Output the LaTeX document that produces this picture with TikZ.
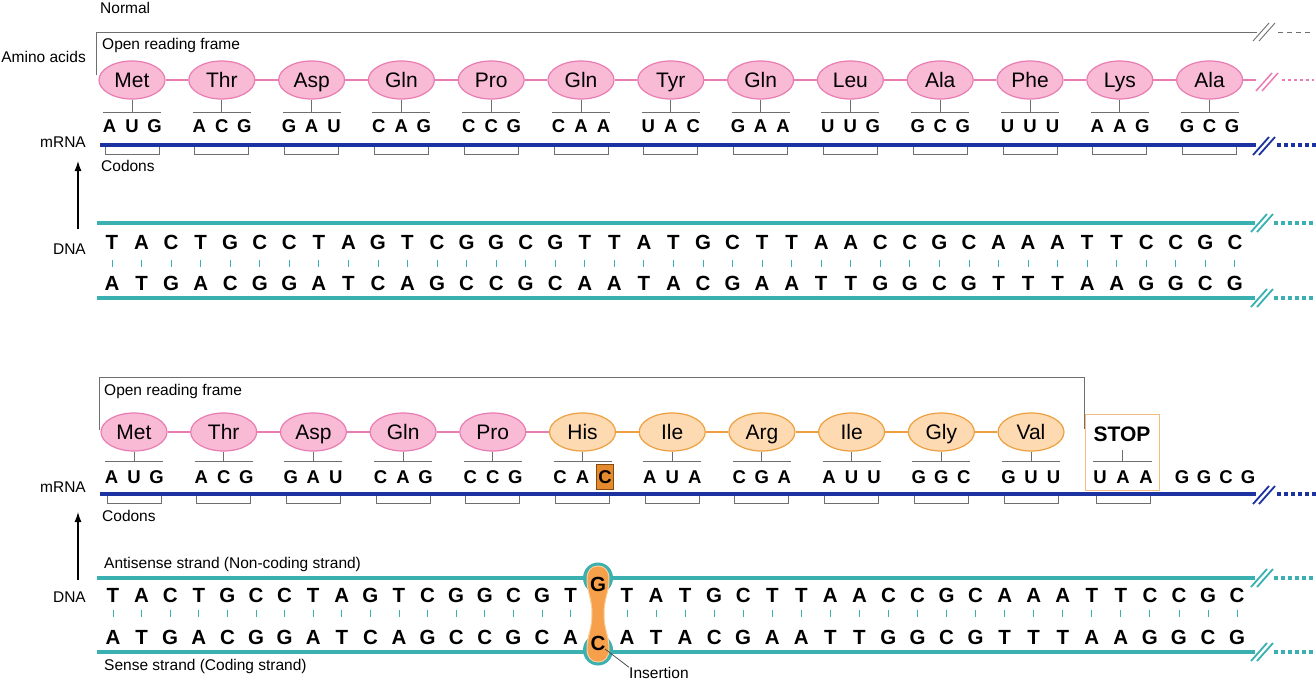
\documentclass[tikz,border=0pt]{standalone}
\usepackage{fontspec}
\setmainfont{Liberation Sans}
\usetikzlibrary{shapes.geometric,arrows.meta}
\definecolor{pinkfill}{RGB}{249,186,214}
\definecolor{pinkdraw}{RGB}{234,124,178}
\definecolor{orgfill}{RGB}{253,218,178}
\definecolor{orgdraw}{RGB}{238,160,64}
\definecolor{mblue}{RGB}{28,50,160}
\definecolor{dteal}{RGB}{58,176,176}
\definecolor{insorg}{RGB}{247,160,75}
\definecolor{insring}{RGB}{252,205,150}
\definecolor{hlfill}{RGB}{230,138,46}
\definecolor{hldraw}{RGB}{130,75,20}
\definecolor{gline}{RGB}{110,110,110}
\definecolor{stopdraw}{RGB}{240,188,130}
\newcommand\mybrk[4]{% x, y, color, width
  \draw[#3, line width=#4] (#1-11,#2+9) -- (#1+5,#2-9);
  \draw[#3, line width=#4] (#1-5,#2+9) -- (#1+11,#2-9);}
\begin{document}
\begin{tikzpicture}[x=1pt,y=-1pt,
  aa/.style={ellipse, draw=pinkdraw, fill=pinkfill, line width=1.2pt, minimum width=66pt, minimum height=38pt, inner sep=0pt, text height=15pt, text depth=0pt, font=\fontsize{21}{21}\selectfont},
  aao/.style={aa, draw=orgdraw, fill=orgfill},
  base/.style={inner sep=0pt, text height=13pt, text depth=0pt, font=\bfseries\fontsize{18.5}{18.5}\selectfont},
  hlbase/.style={base, fill=hlfill, draw=hldraw, line width=0.6pt, minimum width=17pt, minimum height=25pt},
  dna/.style={inner sep=0pt, text height=14.5pt, text depth=0pt, font=\bfseries\fontsize{20.5}{20.5}\selectfont},
  lbl/.style={inner sep=0pt, text height=11pt, text depth=0pt, font=\fontsize{15.5}{15.5}\selectfont},
  thinline/.style={draw=gline, line width=0.9pt},
  pinkline/.style={draw=pinkdraw, line width=1.8pt},
  orgline/.style={draw=orgdraw, line width=1.8pt},
  mrna/.style={draw=mblue, line width=4.2pt},
  strand/.style={draw=dteal, line width=4.2pt},
  bar/.style={draw=dteal, line width=0.9pt},
  updart/.style={-{Latex[length=10pt,width=7pt]}, line width=1.3pt, draw=black}]
\useasboundingbox[fill=white] (0,0) rectangle (1316,685);

% ================= TOP PANEL =================
\node[lbl,anchor=west] (normal) at (100,8) {Normal};
\node[lbl,anchor=west] (orf1) at (102,44) {Open reading frame};
\node[lbl,anchor=east] (aalbl) at (86,57) {Amino acids};
\node[lbl,anchor=east] (mrna1) at (86,142) {mRNA};
\node[lbl,anchor=west] (cod1) at (101,166) {Codons};
\node[lbl,anchor=east] (dna1) at (86,249) {DNA};

% ORF bracket
\coordinate (orf1a) at (96,75);
\coordinate (orf1b) at (96,32);
\coordinate (orf1c) at (1257,32);
\coordinate (orf1d) at (1278,32);
\coordinate (orf1e) at (1313,32);
\draw[thinline] (orf1a) -- (orf1b) -- (orf1c);
\mybrk{1264}{32}{gline}{0.9pt}
\draw[thinline, dash pattern=on 5pt off 4pt] (orf1d) -- (orf1e);

% amino acids + codons
\foreach \n/\a/\b/\c [count=\k from 0] in {Met/A/U/G,Thr/A/C/G,Asp/G/A/U,Gln/C/A/G,Pro/C/C/G,Gln/C/A/A,Tyr/U/A/C,Gln/G/A/A,Leu/U/U/G,Ala/G/C/G,Phe/U/U/U,Lys/A/A/G,Ala/G/C/G}{
  \pgfmathsetmacro\cx{132+89.8*\k}
  \node[aa] (ta\k) at (\cx,80) {\n};
  \coordinate (tc\k) at (\cx,112);
  \draw[thinline] (ta\k.south) -- (tc\k);
  \draw[thinline] ([xshift=-29pt]tc\k) -- ([xshift=29pt]tc\k);
  \node[base] (tba\k) at (\cx-22.5,126) {\a};
  \node[base] (tbb\k) at (\cx,126) {\b};
  \node[base] (tbc\k) at (\cx+22.5,126) {\c};
  \draw[thinline] (\cx-27,147) -- (\cx-27,154) -- (\cx+27,154) -- (\cx+27,147);
}
\foreach \k [evaluate=\k as \j using int(\k+1)] in {0,...,11}{
  \draw[pinkline] (ta\k) -- (ta\j);
}
\coordinate (pk1) at (1256,80);
\coordinate (pk2) at (1282,80);
\coordinate (pk3) at (1314,80);
\draw[pinkline] (ta12) -- (pk1);
\mybrk{1267}{82}{pinkdraw}{1.5pt}
\draw[pinkline, line width=1.6pt, dash pattern=on 3pt off 3pt] (pk2) -- (pk3);

% mRNA line
\coordinate (m1a) at (100,145);
\coordinate (m1b) at (1256,145);
\coordinate (m1c) at (1277,145);
\coordinate (m1d) at (1316,145);
\draw[mrna] (m1a) -- (m1b);
\mybrk{1264}{146}{mblue}{1.8pt}
\draw[mrna, dash pattern=on 4pt off 3pt] (m1c) -- (m1d);

% arrow
\coordinate (ar1a) at (78,229);
\coordinate (ar1b) at (78,161);
\draw[updart] (ar1a) -- (ar1b);

% DNA
\coordinate (d1a) at (97,223);
\coordinate (d1b) at (1255,223);
\coordinate (d1c) at (1274,223);
\coordinate (d1d) at (1316,223);
\coordinate (d1e) at (97,298);
\coordinate (d1f) at (1255,298);
\coordinate (d1g) at (1274,298);
\coordinate (d1h) at (1316,298);
\draw[strand] (d1a) -- (d1b);
\draw[strand] (d1e) -- (d1f);
\mybrk{1262}{223}{dteal}{1.8pt}
\mybrk{1262}{298}{dteal}{1.8pt}
\draw[strand, dash pattern=on 4pt off 3pt] (d1c) -- (d1d);
\draw[strand, dash pattern=on 4pt off 3pt] (d1g) -- (d1h);

\foreach \t/\b [count=\k from 0] in {T/A,A/T,C/G,T/A,G/C,C/G,C/G,T/A,A/T,G/C,T/A,C/G,G/C,G/C,C/G,G/C,T/A,T/A,A/T,T/A,G/C,C/G,T/A,T/A,A/T,A/T,C/G,C/G,G/C,C/G,A/T,A/T,A/T,T/A,T/A,C/G,C/G,G/C,C/G}{
  \pgfmathsetmacro\dx{112+29.55*\k}
  \node[dna] (dt\k) at (\dx,242) {\t};
  \node[dna] (db\k) at (\dx,283) {\b};
  \draw[bar] (\dx,260) -- (\dx,267);
}

% ================= BOTTOM PANEL =================
\node[lbl,anchor=west] (orf2) at (104,390) {Open reading frame};
\node[lbl,anchor=east] (mrna2) at (86,487) {mRNA};
\node[lbl,anchor=west] (cod2) at (102,516) {Codons};
\node[lbl,anchor=east] (dna2) at (86,597) {DNA};
\node[lbl,anchor=west] (anti) at (104,563) {Antisense strand (Non-coding strand)};
\node[lbl,anchor=west] (sense) at (104,665) {Sense strand (Coding strand)};

\coordinate (orf2a) at (99,430);
\coordinate (orf2b) at (99,377);
\coordinate (orf2c) at (1084,377);
\coordinate (orf2d) at (1084,429);
\draw[thinline] (orf2a) -- (orf2b) -- (orf2c) -- (orf2d);

\foreach \n/\a/\b/\c/\s/\h [count=\k from 0] in {Met/A/U/G/aa/base,Thr/A/C/G/aa/base,Asp/G/A/U/aa/base,Gln/C/A/G/aa/base,Pro/C/C/G/aa/base,His/C/A/C/aao/hlbase,Ile/A/U/A/aao/base,Arg/C/G/A/aao/base,Ile/A/U/U/aao/base,Gly/G/G/C/aao/base,Val/G/U/U/aao/base}{
  \pgfmathsetmacro\cx{134+89.7*\k}
  \node[\s] (ba\k) at (\cx,432) {\n};
  \coordinate (bc\k) at (\cx,461);
  \draw[thinline] (ba\k.south) -- (bc\k);
  \draw[thinline] ([xshift=-29pt]bc\k) -- ([xshift=29pt]bc\k);
  \node[base] (bba\k) at (\cx-22.5,477) {\a};
  \node[base] (bbb\k) at (\cx,477) {\b};
  \node[\h] (bbc\k) at (\cx+22.5,477) {\c};
  \draw[thinline] (\cx-27,496) -- (\cx-27,503) -- (\cx+27,503) -- (\cx+27,496);
}
\foreach \k [evaluate=\k as \j using int(\k+1)] in {0,...,4}{
  \draw[pinkline] (ba\k) -- (ba\j);
}
\foreach \k [evaluate=\k as \j using int(\k+1)] in {5,...,9}{
  \draw[orgline] (ba\k) -- (ba\j);
}

% STOP
\node[draw=stopdraw, line width=1pt, minimum width=74pt, minimum height=76pt, inner sep=0pt] (stopbox) at (1122,452) {};
\node[inner sep=0pt, text height=15pt, text depth=0pt, font=\bfseries\fontsize{21}{21}\selectfont] (stoptxt) at (1122,434) {STOP};
\coordinate (sc) at (1122,461);
\coordinate (st) at (1122,450);
\draw[thinline] (st) -- (sc);
\draw[thinline] (1093,461) -- (1152,461);
\node[base] (sa) at (1100,477) {U};
\node[base] (sb) at (1123,477) {A};
\node[base] (sd) at (1146,477) {A};
\draw[thinline] (1096,496) -- (1096,503) -- (1150,503) -- (1150,496);
\node[base] (g1) at (1182,477) {G};
\node[base] (g2) at (1204,477) {G};
\node[base] (g3) at (1226,477) {C};
\node[base] (g4) at (1248,477) {G};

% mRNA
\coordinate (m2a) at (100,494);
\coordinate (m2b) at (1256,494);
\coordinate (m2c) at (1277,494);
\coordinate (m2d) at (1316,494);
\draw[mrna] (m2a) -- (m2b);
\mybrk{1264}{495}{mblue}{1.8pt}
\draw[mrna, dash pattern=on 4pt off 3pt] (m2c) -- (m2d);

\coordinate (ar2a) at (78,580);
\coordinate (ar2b) at (78,512);
\draw[updart] (ar2a) -- (ar2b);

% DNA strands
\coordinate (d2a) at (97,578);
\coordinate (d2b) at (1255,578);
\coordinate (d2c) at (1274,578);
\coordinate (d2d) at (1316,578);
\coordinate (d2e) at (97,652);
\coordinate (d2f) at (1255,652);
\coordinate (d2g) at (1274,652);
\coordinate (d2h) at (1316,652);
\draw[strand] (d2a) -- (d2b);
\draw[strand] (d2e) -- (d2f);
\mybrk{1262}{578}{dteal}{1.8pt}
\mybrk{1262}{652}{dteal}{1.8pt}
\draw[strand, dash pattern=on 4pt off 3pt] (d2c) -- (d2d);
\draw[strand, dash pattern=on 4pt off 3pt] (d2g) -- (d2h);

% insertion blob
\fill[dteal] (598,578) ellipse [x radius=15pt, y radius=15.5pt];
\fill[dteal] (598,650) ellipse [x radius=15pt, y radius=15.5pt];
\filldraw[fill=insorg, draw=insring, line width=1pt] (598,566) .. controls (605,566) and (609,571) .. (609,579) .. controls (609,592) and (604,598) .. (604,614) .. controls (604,630) and (609,636) .. (609,649) .. controls (609,657) and (605,662) .. (598,662) .. controls (591,662) and (587,657) .. (587,649) .. controls (587,636) and (592,630) .. (592,614) .. controls (592,598) and (587,592) .. (587,579) .. controls (587,571) and (591,566) .. (598,566) -- cycle;
\node[dna] (insg) at (598,584) {G};
\node[dna] (insc) at (598,643) {C};
\node[lbl,anchor=west] (inslbl) at (629,673) {Insertion};
\coordinate (insp) at (605,649);
\draw[draw=black!75, line width=0.7pt] (insp) -- (inslbl.north west);

\foreach \t/\b [count=\k from 0] in {T/A,A/T,C/G,T/A,G/C,C/G,C/G,T/A,A/T,G/C,T/A,C/G,G/C,G/C,C/G,G/C,T/A}{
  \pgfmathsetmacro\dx{113+28.6*(\k)}
  \node[dna] (et\k) at (\dx,595) {\t};
  \node[dna] (eb\k) at (\dx,637) {\b};
  \draw[bar] (\dx,610) -- (\dx,617);
}
\foreach \t/\b [count=\k from 0] in {T/A,A/T,T/A,G/C,C/G,T/A,T/A,A/T,A/T,C/G,C/G,G/C,C/G,A/T,A/T,A/T,T/A,T/A,C/G,C/G,G/C,C/G}{
  \pgfmathsetmacro\dx{627+29.05*(\k)}
  \node[dna] (ft\k) at (\dx,595) {\t};
  \node[dna] (fb\k) at (\dx,637) {\b};
  \draw[bar] (\dx,610) -- (\dx,617);
}
\end{tikzpicture}
\end{document}
